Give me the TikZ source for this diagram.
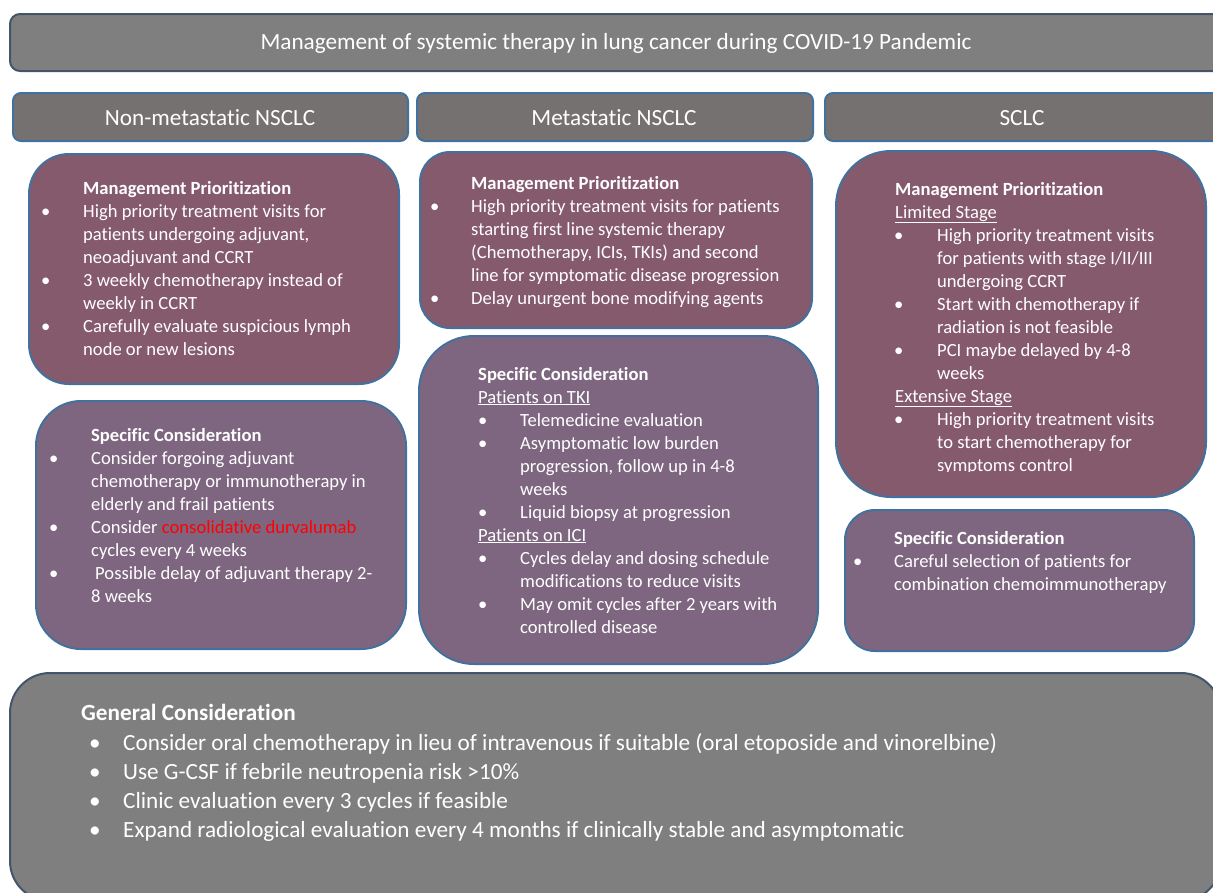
\documentclass[tikz,border=0pt]{standalone}
\usepackage{fontspec}
\setmainfont{Carlito}[Ligatures=NoCommon]
\definecolor{bannerfill}{HTML}{7F7F7F}
\definecolor{bannerline}{HTML}{44546A}
\definecolor{headfill}{HTML}{767171}
\definecolor{blueline}{HTML}{41719C}
\definecolor{priofill}{HTML}{855A6C}
\definecolor{specfill}{HTML}{7F6680}
\definecolor{redtext}{HTML}{FF0000}
% bullet line: bullet offset, text offset, text
\newcommand\Bul[3]{\hspace*{#1pt}\rlap{\textbullet}\hspace*{\dimexpr #2pt-#1pt\relax}#3}
% continuation or plain line at a given offset
\newcommand\Ln[2]{\hspace*{#1pt}#2}
\newcommand\Top{\rule{0pt}{0.85em}}
\begin{document}
\begin{tikzpicture}[x=1pt,y=-1pt,
  banner/.style={draw=bannerline, line width=2pt, fill=bannerfill, rounded corners=10pt, text=white, inner sep=0pt},
  colhead/.style={draw=blueline, line width=2pt, fill=headfill, rounded corners=8pt, text=white, inner sep=0pt},
  headtext/.style={text=white, inner sep=0pt, font=\fontsize{23.2}{27}\selectfont},
  priobox/.style={draw=blueline, line width=2pt, fill=priofill, inner sep=0pt},
  specbox/.style={draw=blueline, line width=2pt, fill=specfill, inner sep=0pt},
  bodytext/.style={anchor=north west, inner sep=0pt, align=left, text=white, font=\fontsize{18.6}{23.0}\selectfont},
  bigtext/.style={anchor=north west, inner sep=0pt, align=left, text=white, font=\fontsize{23.2}{29.2}\selectfont},
]
\clip (0,0) rectangle (1213,892);
\useasboundingbox (0,0) rectangle (1213,892);

% title banner
\node[banner, minimum width=1221, minimum height=57, anchor=north west] (title) at (9,13) {};
\node[headtext] (titletext) at (616,43)
  {Management of systemic therapy in lung cancer during COVID-19 Pandemic};

% column headers
\node[colhead, minimum width=395, minimum height=48, anchor=north west] (h1) at (12,92) {};
\node[colhead, minimum width=396, minimum height=48, anchor=north west] (h2) at (416,92) {};
\node[colhead, minimum width=410, minimum height=48, anchor=north west] (h3) at (824,92) {};
\node[headtext] (h1t) at (210,118) {Non-metastatic NSCLC};
\node[headtext] (h2t) at (614,118) {Metastatic NSCLC};
\node[headtext] (h3t) at (1022,118) {SCLC};

% boxes
\node[priobox, rounded corners=40pt, minimum width=370, minimum height=230, anchor=north west] (lp) at (28,153) {};
\node[specbox, rounded corners=45pt, minimum width=370, minimum height=248, anchor=north west] (ls) at (35,400) {};
\node[priobox, rounded corners=30pt, minimum width=392, minimum height=176, anchor=north west] (mp) at (419,151) {};
\node[specbox, rounded corners=55pt, minimum width=399, minimum height=328, anchor=north west] (ms) at (418,335) {};
\node[priobox, rounded corners=55pt, minimum width=370, minimum height=346, anchor=north west] (sp) at (835,150) {};
\node[specbox, rounded corners=30pt, minimum width=349, minimum height=141, anchor=north west] (ss) at (844,509) {};
\node[banner, rounded corners=40pt, minimum width=1211, minimum height=228, anchor=north west] (gen) at (9,672) {};

% texts
\node[bodytext] (lptext) at (41,178) {%
\Top\Ln{42}{\textbf{Management Prioritization}}\\
\Bul{0}{42}{High priority treatment visits for}\\
\Ln{42}{patients undergoing adjuvant,}\\
\Ln{42}{neoadjuvant and CCRT}\\
\Bul{0}{42}{3 weekly chemotherapy instead of}\\
\Ln{42}{weekly in CCRT}\\
\Bul{0}{42}{Carefully evaluate suspicious lymph}\\
\Ln{42}{node or new lesions}};

\node[bodytext] (lstext) at (49,425) {%
\Top\Ln{42}{\textbf{Specific Consideration}}\\
\Bul{0}{42}{Consider forgoing adjuvant}\\
\Ln{42}{chemotherapy or immunotherapy in}\\
\Ln{42}{elderly and frail patients}\\
\Bul{0}{42}{Consider \textcolor{redtext}{consolidative durvalumab}}\\
\Ln{42}{cycles every 4 weeks}\\
\Bul{0}{46}{Possible delay of adjuvant therapy 2-}\\
\Ln{42}{8 weeks}};

\node[bodytext] (mptext) at (430,173) {%
\Top\Ln{41}{\textbf{Management Prioritization}}\\
\Bul{0}{41}{High priority treatment visits for patients}\\
\Ln{41}{starting first line systemic therapy}\\
\Ln{41}{(Chemotherapy, ICIs, TKIs) and second}\\
\Ln{41}{line for symptomatic disease progression}\\
\Bul{0}{41}{Delay unurgent bone modifying agents}};

\node[bodytext] (mstext) at (478,364) {%
\Top\Ln{0}{\textbf{Specific Consideration}}\\
\Ln{0}{\underline{Patients on TKI}}\\
\Bul{0}{42}{Telemedicine evaluation}\\
\Bul{0}{42}{Asymptomatic low burden}\\
\Ln{42}{progression, follow up in 4-8}\\
\Ln{42}{weeks}\\
\Bul{0}{42}{Liquid biopsy at progression}\\
\Ln{0}{\underline{Patients on ICI}}\\
\Bul{0}{42}{Cycles delay and dosing schedule}\\
\Ln{42}{modifications to reduce visits}\\
\Bul{0}{42}{May omit cycles after 2 years with}\\
\Ln{42}{controlled disease}};

% the last line of this box is cut off at its baseline
\begin{scope}
\clip (830,150) rectangle (1213,471.5);
\node[bodytext] (sptext) at (894,179) {%
\Top\Ln{1}{\textbf{Management Prioritization}}\\
\Ln{1}{\underline{Limited Stage}}\\
\Bul{0}{43}{High priority treatment visits}\\
\Ln{43}{for patients with stage I/II/III}\\
\Ln{43}{undergoing CCRT}\\
\Bul{0}{43}{Start with chemotherapy if}\\
\Ln{43}{radiation is not feasible}\\
\Bul{0}{43}{PCI maybe delayed by 4-8}\\
\Ln{43}{weeks}\\
\Ln{1}{\underline{Extensive Stage}}\\
\Bul{0}{43}{High priority treatment visits}\\
\Ln{43}{to start chemotherapy for}\\
\Ln{43}{symptoms control}};
\end{scope}

\node[bodytext] (sstext) at (853,528) {%
\Top\Ln{41}{\textbf{Specific Consideration}}\\
\Bul{0}{41}{Careful selection of patients for}\\
\Ln{41}{combination chemoimmunotherapy}};

\node[bigtext] (gentext) at (81,701) {%
\Top\Ln{0}{\textbf{General Consideration}}\\
\Bul{8}{42}{Consider oral chemotherapy in lieu of intravenous if suitable (oral etoposide and vinorelbine)}\\
\Bul{8}{42}{Use G-CSF if febrile neutropenia risk >10\%}\\
\Bul{8}{42}{Clinic evaluation every 3 cycles if feasible}\\
\Bul{8}{42}{Expand radiological evaluation every 4 months if clinically stable and asymptomatic}};
\end{tikzpicture}
\end{document}
